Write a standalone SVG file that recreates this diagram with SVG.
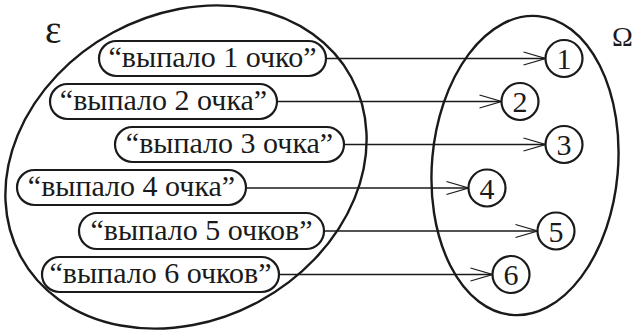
<svg xmlns="http://www.w3.org/2000/svg" width="635" height="332" viewBox="0 0 635 332">
<defs>
<style>
.set{fill:none;stroke:#1a1a1a;stroke-width:2.4}
.box{fill:#fff;stroke:#1a1a1a;stroke-width:2.2}
.c{fill:#fff;stroke:#1a1a1a;stroke-width:2.2}
.t{font-family:"Liberation Serif","DejaVu Serif",serif;font-size:30px;fill:#1a1a1a;text-anchor:middle}
.lab{font-family:"Liberation Serif","DejaVu Serif",serif;fill:#1a1a1a}
.edge{stroke:#1a1a1a;stroke-width:1.3;fill:none}
</style>
<marker id="arr" markerUnits="userSpaceOnUse" markerWidth="30" markerHeight="20" viewBox="-24 -10 26 20" refX="0" refY="0" orient="auto">
<path d="M-22,-6.5 L0,0 L-22,6.5" fill="none" stroke="#1a1a1a" stroke-width="1.3"/>
</marker>
</defs>
<g id="set-E">
<ellipse class="set" cx="186" cy="167" rx="188" ry="153" transform="rotate(-28.5 186 167)"/>
<text class="lab" x="45" y="43" font-size="39">ε</text>
</g>
<g id="set-Omega">
<ellipse class="set" cx="525" cy="165.5" rx="93" ry="150" transform="rotate(5 525 165.5)"/>
<text class="lab" x="612" y="45.5" font-size="28">Ω</text>
</g>
<g id="connectors">
<line class="edge" x1="326" y1="58.5" x2="545.5" y2="58.5" marker-end="url(#arr)"/>
<line class="edge" x1="277" y1="101.5" x2="501.5" y2="101.5" marker-end="url(#arr)"/>
<line class="edge" x1="344" y1="144.5" x2="545.5" y2="144.5" marker-end="url(#arr)"/>
<line class="edge" x1="246" y1="188" x2="468.5" y2="188" marker-end="url(#arr)"/>
<line class="edge" x1="324" y1="231" x2="537.5" y2="231" marker-end="url(#arr)"/>
<line class="edge" x1="279" y1="274.5" x2="492.5" y2="274.5" marker-end="url(#arr)"/>
</g>
<g id="e1"><rect class="box" x="99" y="41" width="227" height="35" rx="17.5"/><text class="t" x="212.5" y="67">“выпало 1 очко”</text></g>
<g id="e2"><rect class="box" x="50" y="84" width="227" height="35" rx="17.5"/><text class="t" x="163.5" y="110">“выпало 2 очка”</text></g>
<g id="e3"><rect class="box" x="115" y="127" width="229" height="35" rx="17.5"/><text class="t" x="229.5" y="153">“выпало 3 очка”</text></g>
<g id="e4"><rect class="box" x="17" y="170" width="229" height="35" rx="17.5"/><text class="t" x="131.5" y="196">“выпало 4 очка”</text></g>
<g id="e5"><rect class="box" x="79" y="213" width="245" height="36" rx="18"/><text class="t" x="201.5" y="239.5">“выпало 5 очков”</text></g>
<g id="e6"><rect class="box" x="42" y="257" width="237" height="35" rx="17.5"/><text class="t" x="160.5" y="283">“выпало 6 очков”</text></g>
<g id="o1"><circle class="c" cx="564" cy="58.5" r="18.5"/><text class="t" x="564" y="69">1</text></g>
<g id="o2"><circle class="c" cx="520" cy="101.5" r="18.5"/><text class="t" x="520" y="112">2</text></g>
<g id="o3"><circle class="c" cx="564" cy="144.5" r="18.5"/><text class="t" x="564" y="155">3</text></g>
<g id="o4"><circle class="c" cx="487" cy="188" r="18.5"/><text class="t" x="487" y="198.5">4</text></g>
<g id="o5"><circle class="c" cx="556" cy="231" r="18.5"/><text class="t" x="556" y="241.5">5</text></g>
<g id="o6"><circle class="c" cx="511" cy="274.5" r="18.5"/><text class="t" x="511" y="285">6</text></g>
</svg>
